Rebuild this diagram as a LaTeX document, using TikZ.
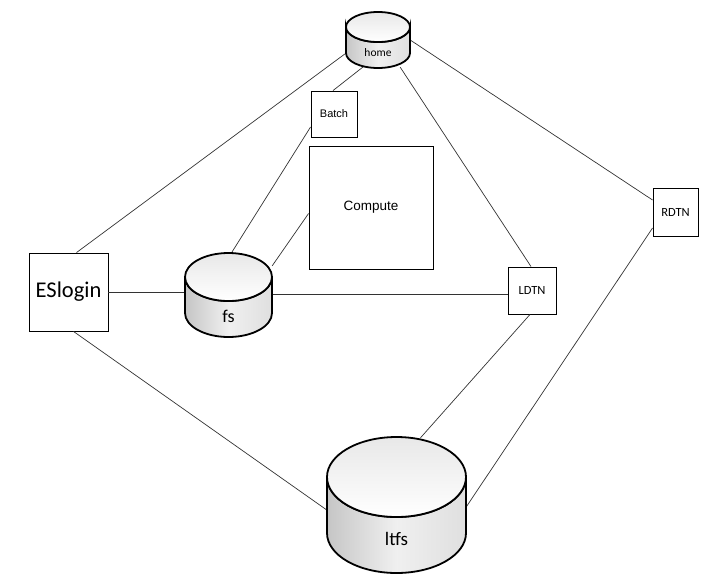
\documentclass[tikz,border=0pt]{standalone}
\usepackage{fontspec}
\setmainfont{Carlito}
\newfontfamily\libsans{Liberation Sans}
\usetikzlibrary{calc}
\tikzset{
  conn/.style={draw=black!80, line width=0.7pt},
  box/.style={draw=black, line width=0.9pt, fill=white, inner sep=0pt},
  cylbody/.style={draw=black, line width=1.8pt, left color=gray!45, right color=gray!25, middle color=gray!12},
  cyltop/.style={draw=black, line width=1.8pt, top color=gray!18, bottom color=white},
  hidden/.style={draw=none, inner sep=0pt}
}
\begin{document}
\begin{tikzpicture}[x=1pt,y=-1pt]
\useasboundingbox (0,0) rectangle (701,584);
% boxes
\node[box, minimum width=79pt, minimum height=78pt] (ESlogin) at (68.5,292) {\fontsize{22.5}{26}\selectfont ESlogin};
\node[box, minimum width=46pt, minimum height=46pt] (Batch) at (334,114) {\libsans\fontsize{11}{13}\selectfont Batch};
\node[box, minimum width=124pt, minimum height=123pt] (Compute) at (371,207.5) {\libsans\fontsize{13.5}{16}\selectfont Compute};
\node[box, minimum width=48pt, minimum height=47pt] (LDTN) at (532,290.5) {\fontsize{12.5}{14}\selectfont LDTN};
\node[box, minimum width=45pt, minimum height=48pt] (RDTN) at (675.5,212) {\fontsize{12.5}{14}\selectfont RDTN};
% cylinder outlines (anchors for connectors)
\node[hidden, minimum width=64pt, minimum height=56pt] (home) at (378,40) {};
\node[hidden, minimum width=87pt, minimum height=84pt] (fs) at (228.5,295) {};
\node[hidden, minimum width=139pt, minimum height=136pt] (ltfs) at (396.5,505) {};
% connectors
\draw[conn] ($(ESlogin.north)+(8,0)$) -- ($(home.west)+(-1,14)$);
\draw[conn] ($(home.south)+(-14,-2)$) -- ($(Batch.north)+(-1,0)$);
\draw[conn] ($(Batch.west)+(0,13)$) -- ($(fs.north)+(3,0)$);
\draw[conn] ($(Compute.west)+(0,6)$) -- ($(fs.north east)+(0,13)$);
\draw[conn] (ESlogin.east) -- (ESlogin.east -| fs.west);
\draw[conn] ($(fs.east)+(0,-1)$) -- ($(fs.east -| LDTN.west)+(0,-1)$);
\draw[conn] ($(home.south east)+(-10,-1)$) -- ($(LDTN.north)+(-1,0)$);
\draw[conn] (home.east) -- ($(RDTN.west)+(0,-12)$);
\draw[conn] ($(RDTN.west)+(0,16)$) -- ($(ltfs.east)+(0,2)$);
\draw[conn] ($(LDTN.south)+(-2,0)$) -- ($(ltfs.north)+(24,1)$);
\draw[conn] ($(ESlogin.south)+(5,0)$) -- ($(ltfs.west)+(0,5)$);
% cylinders
\path[cylbody] (346,27) -- (346,53) arc[start angle=180, end angle=0, x radius=32, y radius=15] -- (410,27) arc[start angle=0, end angle=180, x radius=32, y radius=15] -- cycle;
\path[cyltop] (378,27) ellipse [x radius=32, y radius=15];
\node[hidden] (homelabel) at (378,53) {\fontsize{11.5}{13}\selectfont home};
\path[cylbody] (185,277) -- (185,313) arc[start angle=180, end angle=0, x radius=43.5, y radius=24] -- (272,277) arc[start angle=0, end angle=180, x radius=43.5, y radius=24] -- cycle;
\path[cyltop] (228.5,277) ellipse [x radius=43.5, y radius=24];
\node[hidden] (fslabel) at (228.5,316) {\fontsize{18}{21}\selectfont fs};
\path[cylbody] (327,477) -- (327,533) arc[start angle=180, end angle=0, x radius=69.5, y radius=40] -- (466,477) arc[start angle=0, end angle=180, x radius=69.5, y radius=40] -- cycle;
\path[cyltop] (396.5,477) ellipse [x radius=69.5, y radius=40];
\node[hidden] (ltfslabel) at (396.5,539) {\fontsize{19}{22}\selectfont ltfs};
\end{tikzpicture}
\end{document}
